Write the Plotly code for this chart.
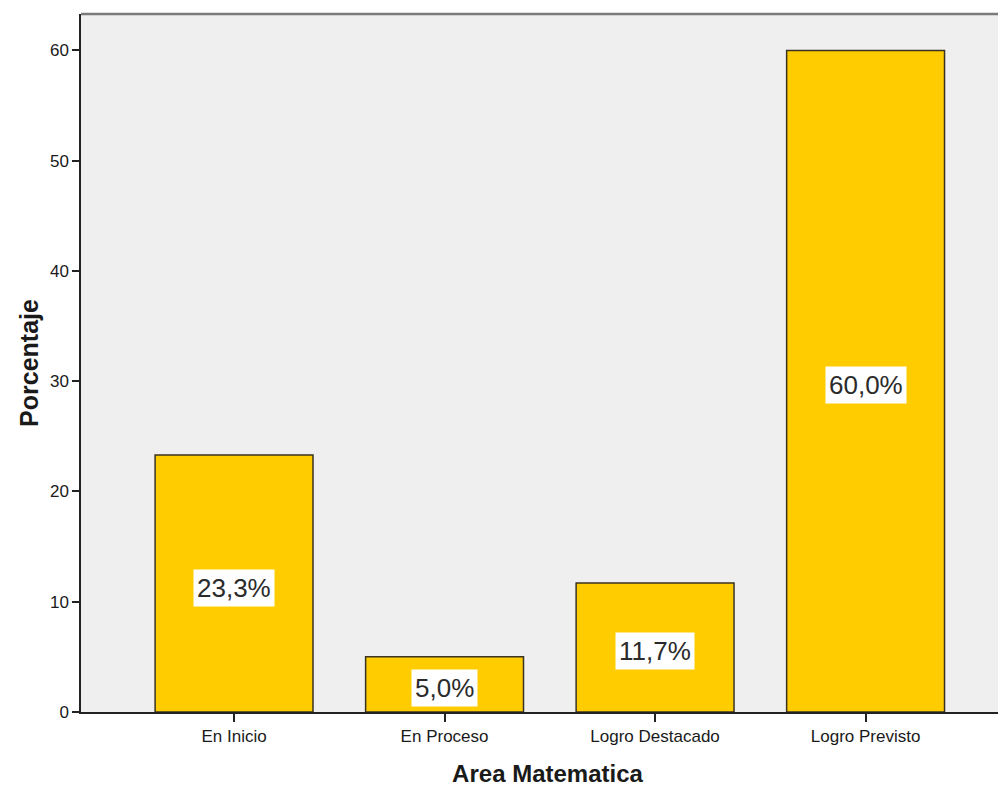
import plotly.graph_objects as go

categories = ["En Inicio", "En Proceso", "Logro Destacado", "Logro Previsto"]
percentages = [23.3, 5.0, 11.7, 60.0]
y_ticks = [0, 10, 20, 30, 40, 50, 60]

fig = go.Figure()
fig.add_trace(go.Bar(
    x=list(range(len(categories))),
    y=percentages,
    width=0.75,
    marker=dict(color="#FFCC00", line=dict(color="#3a3320", width=1.5)),
    hoverinfo="skip",
))

for i, v in enumerate(percentages):
    fig.add_annotation(
        x=i, y=v / 2, yshift=-4, text=f"{v:.1f}%".replace(".", ","),
        showarrow=False, bgcolor="white", borderpad=3,
        font=dict(family="Liberation Sans, Arial", size=26, color="#2b2b2b"),
    )

fig.update_layout(
    width=1006, height=788,
    margin=dict(l=73, r=0, t=6, b=84),
    paper_bgcolor="white",
    plot_bgcolor="#EFEFEF",
    showlegend=False,
    font=dict(family="Liberation Sans, Arial", color="#222"),
    xaxis=dict(
        range=[-0.727, 3.705],
        tickmode="array", tickvals=list(range(len(categories))), ticktext=categories,
        ticks="outside", ticklen=8, tickwidth=1.5, tickcolor="#222",
        showline=True, linecolor="#222", linewidth=1.5,
        showgrid=False, zeroline=False,
        tickfont=dict(size=17, color="#1a1a1a"),
        title=dict(text="<b>Area Matematica</b>", font=dict(size=24, color="#1a1a1a"), standoff=20),
    ),
    yaxis=dict(
        range=[0, 63.3],
        tickmode="array", tickvals=y_ticks,
        ticks="outside", ticklen=7, tickwidth=1.5, tickcolor="#222",
        showline=True, linecolor="#222", linewidth=1.5,
        showgrid=False, zeroline=False,
        tickfont=dict(size=17, color="#1a1a1a"),
        title=dict(text="<b>Porcentaje</b>", font=dict(size=25, color="#1a1a1a"), standoff=4),
    ),
    shapes=[dict(type="line", xref="paper", yref="paper", x0=0, x1=1, y0=1, y1=1,
                 line=dict(color="#7a7a7a", width=2.5))],
)

fig.write_html("out.html")
